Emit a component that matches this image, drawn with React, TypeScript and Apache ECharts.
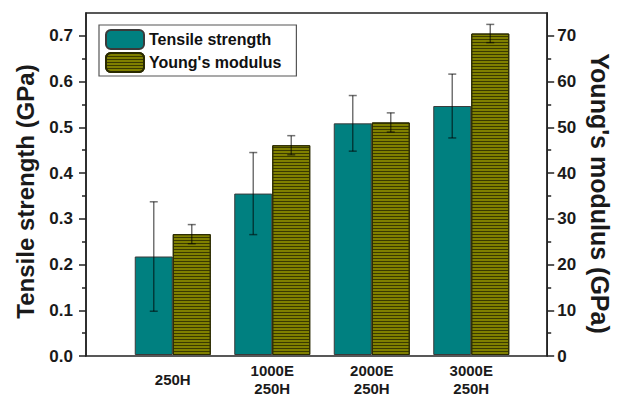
import React, { useEffect, useRef } from "react";
import * as echarts from "echarts";

const categories = ["250H", "1000E\n250H", "2000E\n250H", "3000E\n250H"];
const tensileMean = [0.216, 0.354, 0.508, 0.546];
const tensileErr = [0.12, 0.09, 0.061, 0.07];
const youngMean = [26.5, 46.0, 51.0, 70.5];
const youngErr = [2.1, 2.1, 2.1, 2.0];
const leftTicks = [0, 0.1, 0.2, 0.3, 0.4, 0.5, 0.6, 0.7];
const leftMinor = [0.05, 0.15, 0.25, 0.35, 0.45, 0.55, 0.65];
const rightTicks = [0, 10, 20, 30, 40, 50, 60, 70];
const rightMinor = [5, 15, 25, 35, 45, 55, 65];

const FONT = "Liberation Sans, Arial, sans-serif";
const TEAL = "#008080";
const OLIVE = "#808000";
const BAR_W = 38;

export default function App() {
  const ref = useRef<HTMLDivElement>(null);
  useEffect(() => {
    if (!ref.current) return;
    const chart = echarts.init(ref.current, null, { renderer: "svg" });
    const axisLineStyle = { color: "#222", width: 1.5 };
    const labelStyle = { fontFamily: FONT, fontWeight: "bold" as const, fontSize: 17, color: "#1a1a1a" };

    const errData = (means: number[], errs: number[]) =>
      means.map((m, i) => [i, m - errs[i], m + errs[i]]);

    const makeErr = (offset: number) => (params: any, api: any) => {
      const idx = api.value(0);
      const lo = api.coord([idx, api.value(1)]);
      const hi = api.coord([idx, api.value(2)]);
      const x = lo[0] + offset;
      const cap = 4;
      const style = { stroke: "rgba(0,0,0,0.55)", lineWidth: 1.5 };
      return {
        type: "group",
        children: [
          { type: "line", shape: { x1: x, y1: lo[1], x2: x, y2: hi[1] }, style },
          { type: "line", shape: { x1: x - cap, y1: lo[1], x2: x + cap, y2: lo[1] }, style },
          { type: "line", shape: { x1: x - cap, y1: hi[1], x2: x + cap, y2: hi[1] }, style },
        ],
      };
    };

    chart.setOption({
      animation: false,
      backgroundColor: "#fff",
      grid: [
        { left: 86, right: 67, top: 13, bottom: 41, show: true, borderColor: "#222", borderWidth: 1.5 },
        { left: 123, width: 398, top: 13, bottom: 41 },
      ],
      legend: {
        left: 99,
        top: 25,
        orient: "vertical",
        selectedMode: false,
        itemWidth: 38,
        itemHeight: 19,
        itemGap: 2,
        padding: [4, 15, 3, 6],
        borderColor: "#555",
        borderWidth: 1.2,
        backgroundColor: "#fff",
        textStyle: { fontFamily: FONT, fontWeight: "bold", fontSize: 16, color: "#111" },
        data: ["Tensile strength", "Young's modulus"],
      },
      xAxis: [
        { gridIndex: 0, type: "value", min: 0, max: 1, show: false },
        {
          gridIndex: 1,
          type: "category",
          data: categories,
          axisLine: { show: false },
          axisTick: { show: false },
          axisLabel: {
            fontFamily: FONT,
            fontWeight: "bold",
            fontSize: 15,
            color: "#1a1a1a",
            lineHeight: 18,
            margin: 24,
            verticalAlign: "middle",
          },
        },
      ],
      yAxis: [
        {
          gridIndex: 0,
          type: "value",
          position: "left",
          min: 0,
          max: 0.75,
          name: "Tensile strength (GPa)",
          nameLocation: "middle",
          nameGap: 49,
          nameTextStyle: {
            fontFamily: FONT,
            fontWeight: "bold",
            fontSize: 24,
            color: "#1a1a1a",
            padding: [0, 14, 0, 0],
          },
          axisLine: { show: true, lineStyle: axisLineStyle },
          axisTick: { show: true, length: 7, lineStyle: axisLineStyle, customValues: leftTicks },
          axisLabel: { ...labelStyle, margin: 13, customValues: leftTicks, formatter: (v: number) => v.toFixed(1) },
          splitLine: { show: false },
        },
        {
          gridIndex: 0,
          type: "value",
          position: "left",
          min: 0,
          max: 0.75,
          axisLine: { show: false },
          axisTick: { show: true, length: 4, lineStyle: axisLineStyle, customValues: leftMinor },
          axisLabel: { show: false },
          splitLine: { show: false },
        },
        {
          gridIndex: 0,
          type: "value",
          position: "right",
          min: 0,
          max: 75,
          name: "Young's modulus (GPa)",
          nameLocation: "middle",
          nameGap: 38,
          nameRotate: -90,
          nameTextStyle: {
            fontFamily: FONT,
            fontWeight: "bold",
            fontSize: 25,
            color: "#1a1a1a",
            padding: [0, 0, 0, 18],
          },
          axisLine: { show: true, lineStyle: axisLineStyle },
          axisTick: { show: true, length: 7, lineStyle: axisLineStyle, customValues: rightTicks },
          axisLabel: { ...labelStyle, margin: 10, customValues: rightTicks },
          splitLine: { show: false },
        },
        {
          gridIndex: 0,
          type: "value",
          position: "right",
          min: 0,
          max: 75,
          axisLine: { show: false },
          axisTick: { show: true, length: 4, lineStyle: axisLineStyle, customValues: rightMinor },
          axisLabel: { show: false },
          splitLine: { show: false },
        },
        { gridIndex: 1, type: "value", min: 0, max: 0.75, show: false, splitLine: { show: false } },
        { gridIndex: 1, type: "value", min: 0, max: 75, show: false, splitLine: { show: false } },
      ],
      series: [
        {
          name: "Tensile strength",
          type: "bar",
          xAxisIndex: 1,
          yAxisIndex: 4,
          barWidth: BAR_W,
          barGap: "0%",
          data: tensileMean,
          itemStyle: { color: TEAL, borderColor: "#3a3a3a", borderWidth: 1 },
        },
        {
          name: "Young's modulus",
          type: "bar",
          xAxisIndex: 1,
          yAxisIndex: 5,
          barWidth: BAR_W,
          barGap: "0%",
          data: youngMean,
          itemStyle: {
            color: OLIVE,
            borderColor: "#2a2a00",
            borderWidth: 1,
            decal: {
              symbol: "rect",
              symbolSize: 1,
              color: "#3a3a00",
              dashArrayX: [1, 0],
              dashArrayY: [1, 2],
              rotation: 0,
            },
          },
        },
        {
          type: "custom",
          xAxisIndex: 1,
          yAxisIndex: 4,
          z: 10,
          renderItem: makeErr(-BAR_W / 2),
          encode: { x: 0, y: [1, 2] },
          data: errData(tensileMean, tensileErr),
        },
        {
          type: "custom",
          xAxisIndex: 1,
          yAxisIndex: 5,
          z: 10,
          renderItem: makeErr(BAR_W / 2),
          encode: { x: 0, y: [1, 2] },
          data: errData(youngMean, youngErr),
        },
      ],
    });
    return () => chart.dispose();
  }, []);
  return <div ref={ref} style={{ position: "fixed", left: 0, top: 0, width: 620, height: 397 }} />;
}
